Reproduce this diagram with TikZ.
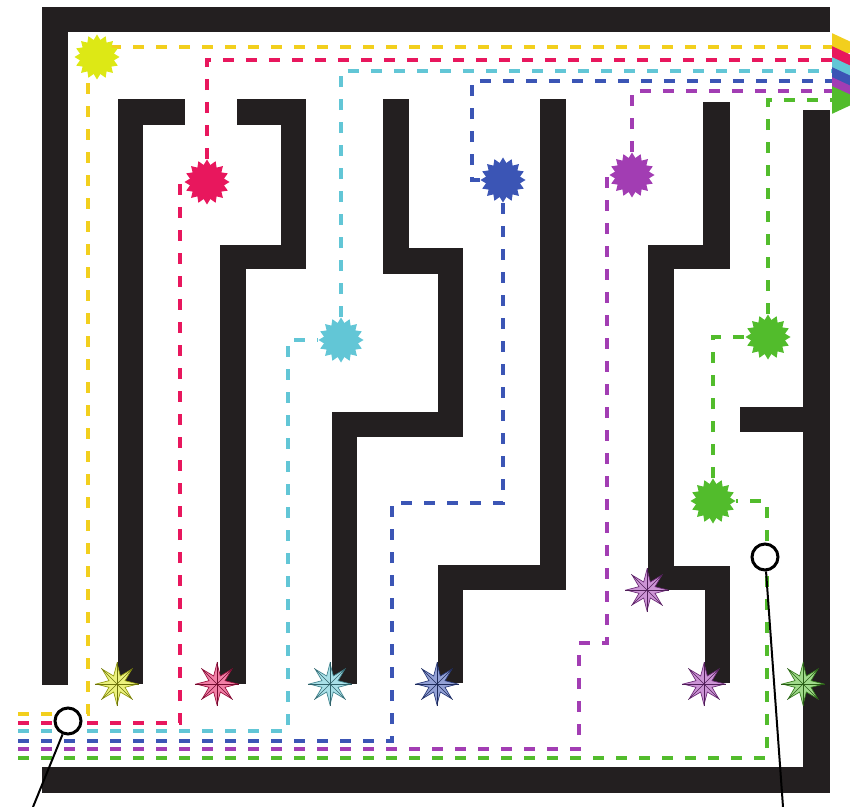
\documentclass[tikz,border=0pt]{standalone}
\usepackage{xcolor}
\usepackage{tikz}
\usetikzlibrary{shapes.geometric,arrows.meta,backgrounds}

\definecolor{mazeblack}{HTML}{231F20}
\definecolor{trailyellow}{HTML}{F2CF1D}
\definecolor{trailred}{HTML}{E8175D}
\definecolor{trailcyan}{HTML}{62C6D6}
\definecolor{trailblue}{HTML}{3B55B5}
\definecolor{trailpurple}{HTML}{A23DB3}
\definecolor{trailgreen}{HTML}{52BC2C}
\definecolor{burstyellow}{HTML}{DDE815}

\begin{document}
\begin{tikzpicture}[
    x=0.3mm, y=-0.3mm,
    wall/.style={fill=mazeblack},
    trail/.style={draw=#1, line width=1.1mm, dash pattern=on 3.3mm off 3.6mm, -{Triangle[length=9mm,width=8mm]}},
    burst/.style={star, star points=16, star point ratio=1.3, minimum size=13.5mm, inner sep=0pt, fill=#1},
    compass/.style={star, star points=8, star point ratio=2.4, minimum size=12.5mm, inner sep=0pt, fill=#1!55, draw=#1!65!black, line width=0.2mm},
    ring/.style={circle, draw=black, line width=0.9mm, fill=white, minimum size=7.8mm, inner sep=0pt},
    pointer/.style={draw=black, line width=0.6mm}
]
\useasboundingbox (0,0) rectangle (850,807);

% Outer walls
\fill[wall] (42,7) rectangle (830,32);
\fill[wall] (42,7) rectangle (68,685);
\fill[wall] (42,767) rectangle (830,793);
\fill[wall] (803,110) rectangle (830,793);

% Inner walls
\fill[wall] (118,99) rectangle (143,684);
\fill[wall] (118,99) rectangle (185,125);

\fill[wall] (237,99) rectangle (306,125);
\fill[wall] (281,99) rectangle (306,269);
\fill[wall] (220,245) rectangle (306,269);
\fill[wall] (220,245) rectangle (246,684);

\fill[wall] (383,99) rectangle (409,274);
\fill[wall] (383,248) rectangle (463,274);
\fill[wall] (438,248) rectangle (463,437);
\fill[wall] (332,412) rectangle (463,437);
\fill[wall] (332,412) rectangle (357,684);

\fill[wall] (540,99) rectangle (566,590);
\fill[wall] (438,565) rectangle (566,590);
\fill[wall] (438,565) rectangle (463,683);

\fill[wall] (703,102) rectangle (730,269);
\fill[wall] (648,245) rectangle (730,269);
\fill[wall] (648,245) rectangle (674,590);
\fill[wall] (648,566) rectangle (730,590);
\fill[wall] (705,566) rectangle (730,683);

\fill[wall] (740,407) rectangle (803,432);

% Bursts
\node[burst=burstyellow] (yburst) at (97,57) {};
\node[burst=trailred] (rburst) at (207,182) {};
\node[burst=trailcyan] (cburst) at (341,340) {};
\node[burst=trailblue] (bburst) at (503,180) {};
\node[burst=trailpurple] (pburst) at (632,175) {};
\node[burst=trailgreen] (gburstA) at (768,337) {};
\node[burst=trailgreen] (gburstB) at (713,501) {};

% Compass stars at wall ends
\node[compass=burstyellow] (ystar) at (117,684) {};
\node[compass=trailred] (rstar) at (217,684) {};
\node[compass=trailcyan] (cstar) at (330,684) {};
\node[compass=trailblue] (bstar) at (437,684) {};
\node[compass=trailpurple] (pstarA) at (647,590) {};
\node[compass=trailpurple] (pstarB) at (704,684) {};
\node[compass=trailgreen] (gstar) at (803,684) {};
\foreach \s/\c in {ystar/burstyellow,rstar/trailred,cstar/trailcyan,bstar/trailblue,pstarA/trailpurple,pstarB/trailpurple,gstar/trailgreen}
  \foreach \i in {1,...,8}
    \draw[line width=0.15mm, \c!50!black] (\s.center) -- (\s.outer point \i);

% Entry and exit points
\coordinate (inY) at (18,714);
\coordinate (inR) at (18,723);
\coordinate (inC) at (18,731);
\coordinate (inB) at (18,741);
\coordinate (inP) at (18,749);
\coordinate (inG) at (18,758);
\coordinate (outY) at (862,47);
\coordinate (outR) at (862,60);
\coordinate (outC) at (862,71);
\coordinate (outB) at (862,81);
\coordinate (outP) at (862,91);
\coordinate (outG) at (862,100);

% Trails
\begin{scope}[on background layer]
\draw[trail=trailyellow] (inY) -- (88,714) -- (88,47) -- (outY);
\draw[trail=trailred, -] (inR) -- (180,723) -- (180,182) -- (rburst);
\draw[trail=trailred] (rburst) -- (207,60) -- (outR);
\draw[trail=trailcyan, -] (inC) -- (288,731) -- (288,340) -- (cburst);
\draw[trail=trailcyan] (cburst) -- (341,71) -- (outC);
\draw[trail=trailblue, -] (inB) -- (392,741) -- (392,503) -- (503,503) -- (bburst);
\draw[trail=trailblue] (bburst) -- (472,180) -- (472,81) -- (outB);
\draw[trail=trailpurple, -] (inP) -- (579,749) -- (579,643) -- (607,643) -- (607,175) -- (pburst);
\draw[trail=trailpurple] (pburst) -- (632,91) -- (outP);
\draw[trail=trailgreen, -] (inG) -- (767,758) -- (767,501) -- (gburstB);
\draw[trail=trailgreen, -] (gburstB) -- (713,337) -- (gburstA);
\draw[trail=trailgreen] (gburstA) -- (768,100) -- (outG);
\end{scope}

% Markers
\node[ring] (ringA) at (68,721) {};
\node[ring] (ringB) at (765,557) {};
\coordinate (tailA) at (33,807);
\coordinate (tailB) at (783,807);
\draw[pointer] (ringA) -- (tailA);
\draw[pointer] (ringB) -- (tailB);

\end{tikzpicture}
\end{document}
